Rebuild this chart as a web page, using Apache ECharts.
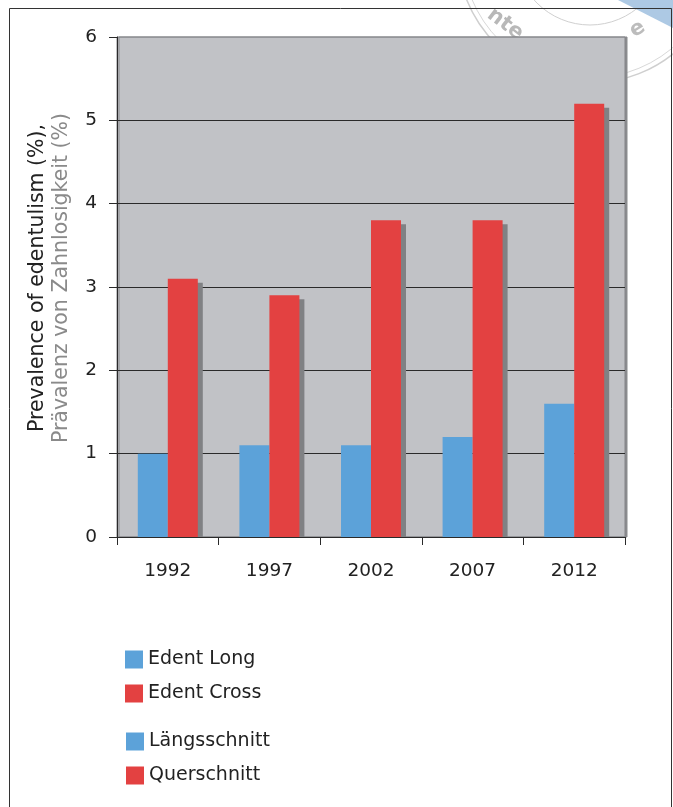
<!DOCTYPE html>
<html>
<head>
<meta charset="utf-8">
<script src="https://cdn.jsdelivr.net/npm/echarts@6/dist/echarts.min.js"></script>
<style>
  html, body { margin: 0; padding: 0; background: #ffffff; }
  #chart { width: 673px; height: 807px; }
</style>
</head>
<body>
<div id="chart"></div>
<script>
// Survey years and prevalence of edentulism (%)
const years = ['1992', '1997', '2002', '2007', '2012'];
const edentLong = [1.0, 1.1, 1.1, 1.2, 1.6];
const edentCross = [3.1, 2.9, 3.8, 3.8, 5.2];
const yTicks = [0, 1, 2, 3, 4, 5, 6];

const BLUE = '#5ca2d9';
const RED = '#e34141';
const FONT = '"DejaVu Sans", "Noto Sans", sans-serif';

const chart = echarts.init(document.getElementById('chart'), null, { renderer: 'canvas' });

// Flat drop shadow behind each cross-sectional bar, offset right and down
function shadowItem(params, api) {
  const idx = api.value(0);
  const val = api.value(1);
  const top = api.coord([idx, val]);
  const base = api.coord([idx, 0]);
  const barW = 30;
  return {
    type: 'rect',
    shape: { x: top[0] + 5, y: top[1] + 4, width: barW, height: base[1] - top[1] - 4 },
    style: { fill: '#808184' }
  };
}

const legendText = { fontFamily: FONT, fontSize: 19, color: '#222', lineHeight: 18 };

chart.setOption({
  animation: false,
  backgroundColor: '#ffffff',
  textStyle: { fontFamily: FONT },
  grid: {
    left: 117, right: 48, top: 37, bottom: 270,
    show: true,
    backgroundColor: '#c1c2c6',
    borderColor: '#838488',
    borderWidth: 1,
    shadowColor: '#8a8b8e',
    shadowBlur: 0,
    shadowOffsetX: 2
  },
  legend: [
    {
      data: ['Edent Long', 'Edent Cross'],
      orient: 'vertical', left: 125, top: 650, padding: 0,
      icon: 'rect', itemWidth: 18, itemHeight: 18, itemGap: 15, itemTextGap: 6,
      textStyle: legendText,
      selectedMode: false
    },
    {
      data: ['Längsschnitt', 'Querschnitt'],
      orient: 'vertical', left: 126, top: 732, padding: 0,
      icon: 'rect', itemWidth: 18, itemHeight: 18, itemGap: 15, itemTextGap: 6,
      textStyle: legendText,
      selectedMode: false
    }
  ],
  xAxis: {
    type: 'category',
    data: years,
    axisLine: { lineStyle: { color: '#2a2a2a', width: 1 } },
    axisTick: { show: true, length: 8, lineStyle: { color: '#2a2a2a' } },
    axisLabel: { margin: 25, fontSize: 18.5, color: '#222', fontFamily: FONT },
    splitLine: { show: false }
  },
  yAxis: {
    type: 'value',
    min: yTicks[0], max: yTicks[yTicks.length - 1], interval: 1,
    axisLine: { show: true, lineStyle: { color: '#2a2a2a', width: 1 } },
    axisTick: { show: true, length: 8, lineStyle: { color: '#2a2a2a' } },
    axisLabel: { margin: 20, fontSize: 18.5, color: '#222', fontFamily: FONT },
    splitLine: { show: true, showMaxLine: false, lineStyle: { color: '#2a2a2a', width: 1 } },
    name: '{a|Prevalence of edentulism (%),}\n{b|Prävalenz von Zahnlosigkeit (%)}',
    nameLocation: 'middle',
    nameRotate: 90,
    nameGap: 43,
    nameTextStyle: {
      fontFamily: FONT,
      lineHeight: 24,
      padding: [0, 0, 0, 18],
      rich: {
        a: { fontSize: 20.5, color: '#222', fontFamily: FONT, lineHeight: 24 },
        b: { fontSize: 20.5, color: '#8a8a8a', fontFamily: FONT, lineHeight: 24 }
      }
    }
  },
  series: [
    {
      name: 'cross-shadow',
      type: 'custom',
      z: 1,
      silent: true,
      renderItem: shadowItem,
      encode: { x: 0, y: 1 },
      data: edentCross.map((v, i) => [i, v])
    },
    {
      name: 'Edent Long', type: 'bar', stack: 'long', z: 2,
      barWidth: 30, barGap: '0%',
      itemStyle: { color: BLUE },
      data: edentLong
    },
    {
      name: 'Edent Cross', type: 'bar', stack: 'cross', z: 2,
      barWidth: 30, barGap: '0%',
      itemStyle: { color: RED },
      data: edentCross
    },
    // German legend entries share the same slots and carry no extra bars
    { name: 'Längsschnitt', type: 'bar', stack: 'long', barWidth: 30, itemStyle: { color: BLUE }, data: [] },
    { name: 'Querschnitt', type: 'bar', stack: 'cross', barWidth: 30, itemStyle: { color: RED }, data: [] }
  ],
  graphic: [
    // page frame
    {
      type: 'rect', z: -1, silent: true,
      shape: { x: 9.5, y: 8.5, width: 662, height: 820 },
      style: { fill: 'none', stroke: '#333', lineWidth: 1 }
    },
    // faint stamp in the corner
    {
      type: 'circle', z: -2, silent: true,
      shape: { cx: 590, cy: -50, r: 133 },
      style: { fill: 'none', stroke: '#cfcfcf', lineWidth: 1.5 }
    },
    {
      type: 'circle', z: -2, silent: true,
      shape: { cx: 590, cy: -50, r: 128 },
      style: { fill: 'none', stroke: '#d8d8d8', lineWidth: 1 }
    },
    {
      type: 'circle', z: -2, silent: true,
      shape: { cx: 590, cy: -50, r: 75 },
      style: { fill: 'none', stroke: '#d0d0d0', lineWidth: 1 }
    },
    {
      type: 'polygon', z: -2, silent: true,
      shape: { points: [[618, 0], [673, 0], [673, 28]] },
      style: { fill: '#adc9e4' }
    },
    {
      type: 'text', z: -2, silent: true,
      x: 496, y: 4, rotation: -0.65,
      style: { text: 'nte', fill: '#b8b8b8', font: 'bold 21px ' + FONT }
    },
    {
      type: 'text', z: -2, silent: true,
      x: 626, y: 24, rotation: 0.55,
      style: { text: 'e', fill: '#bcbcbc', font: 'bold 21px ' + FONT }
    }
  ]
});
</script>
</body>
</html>
